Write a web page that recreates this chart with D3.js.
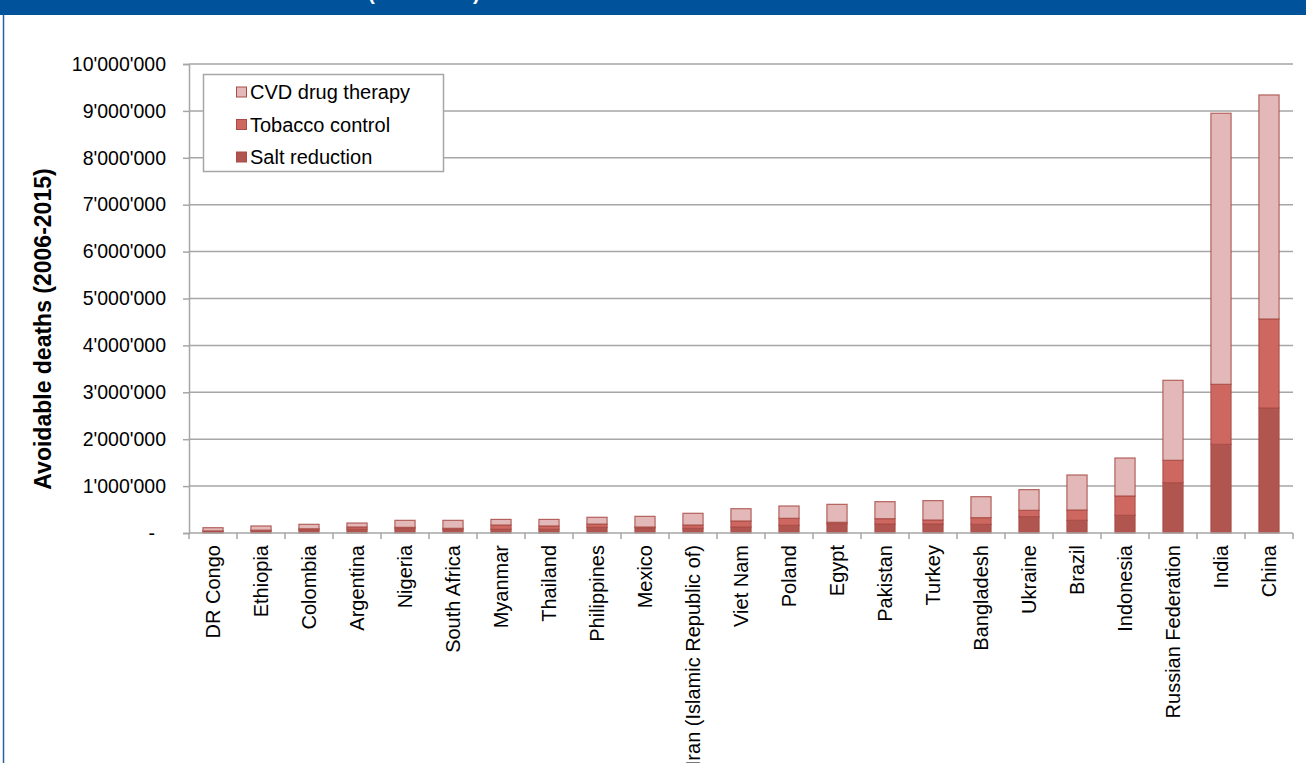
<!DOCTYPE html>
<html>
<head>
<meta charset="utf-8">
<script src="https://cdn.jsdelivr.net/npm/d3@7"></script>
<style>
  html, body { margin: 0; padding: 0; background: #fff; }
  svg { display: block; font-family: "Liberation Sans", Arial, sans-serif; }
</style>
</head>
<body>
<svg id="chart" width="1306" height="763"></svg>
<script>
const countries = ["DR Congo","Ethiopia","Colombia","Argentina","Nigeria","South Africa","Myanmar","Thailand","Philippines","Mexico","Iran (Islamic Republic of)","Viet Nam","Poland","Egypt","Pakistan","Turkey","Bangladesh","Ukraine","Brazil","Indonesia","Russian Federation","India","China"];
const saltReduction   = [30000,45000,70000,80000,100000,75000,80000,80000,120000,110000,100000,128000,164000,200000,192000,192000,185000,348000,270000,377000,1072000,1891000,2665000];
const tobaccoControl  = [15000,15000,20000,48000,20000,25000,90000,70000,70000,18000,70000,128000,149000,28000,113000,85000,142000,136000,220000,412000,478000,1279000,1898000];
const cvdDrugTherapy  = [68000,90000,95000,85000,150000,170000,120000,140000,145000,227000,250000,262000,263000,383000,363000,413000,447000,440000,747000,810000,1706000,5780000,4777000];
const seriesNames = ["Salt reduction","Tobacco control","CVD drug therapy"];
const seriesColors = ["#b0554f","#cf6761","#e2b9b8"];
const yTicks = [0,1000000,2000000,3000000,4000000,5000000,6000000,7000000,8000000,9000000,10000000];
const titleText = "Avoidable deaths in 23 countries (2006-2015)";
const yAxisTitle = "Avoidable deaths (2006-2015)";

const svg = d3.select("#chart");
const W = 1306, H = 763;
const plot = {left: 189, right: 1293, top: 64, bottom: 533};

// frame: title bar + left border
svg.append("rect").attr("x",0).attr("y",0).attr("width",W).attr("height",H).attr("fill","#fff");
svg.append("rect").attr("x",0).attr("y",0).attr("width",W).attr("height",15).attr("fill","#00529b");
svg.append("text").attr("x",43).attr("y",-0.5).attr("fill","#fff")
  .attr("font-weight","bold").attr("font-size",20.5).text(titleText);
svg.append("line").attr("x1",3.5).attr("x2",3.5).attr("y1",15).attr("y2",H)
  .attr("stroke","#2a5ea8").attr("stroke-width",1.5);

const x = d3.scaleBand().domain(countries).range([plot.left, plot.right]).paddingInner(0.58).paddingOuter(0.29);
const y = d3.scaleLinear().domain([0,10000000]).range([plot.bottom, plot.top]);

const fmt = v => v === 0 ? "-" : d3.format(",")(v).replace(/,/g,"'");

// gridlines
svg.append("g").selectAll("line").data(yTicks.filter(d=>d>0)).join("line")
  .attr("x1",plot.left).attr("x2",plot.right)
  .attr("y1",d=>y(d)).attr("y2",d=>y(d))
  .attr("stroke","#a6a6a6").attr("stroke-width",1.5);

// y axis
const yAxis = svg.append("g").attr("transform",`translate(${plot.left},0)`)
  .call(d3.axisLeft(y).tickValues(yTicks).tickFormat(fmt).tickSize(6).tickPadding(17));
yAxis.select(".domain").attr("stroke","#a6a6a6").attr("stroke-width",1.5);
yAxis.selectAll(".tick line").attr("stroke","#a6a6a6").attr("stroke-width",1.5);
yAxis.selectAll(".tick text").attr("font-size",19.5).attr("fill","#000")
  .attr("font-family","'Liberation Sans', Arial, sans-serif")
  .attr("dx",d=>d===0?-11:0);

// y title
svg.append("text").attr("transform",`translate(51,329) rotate(-90)`)
  .attr("text-anchor","middle").attr("font-weight","bold").attr("font-size",23)
  .attr("fill","#000").text(yAxisTitle);

// stacked bars
const rows = countries.map((c,i)=>({country:c, salt:saltReduction[i], tob:tobaccoControl[i], cvd:cvdDrugTherapy[i]}));
const stack = d3.stack().keys(["salt","tob","cvd"])(rows);
svg.append("g").selectAll("g").data(stack).join("g")
  .attr("fill",(d,i)=>seriesColors[i])
  .selectAll("rect").data(d=>d).join("rect")
  .attr("x",d=>x(d.data.country)).attr("width",x.bandwidth())
  .attr("y",d=>y(d[1])).attr("height",d=>y(d[0])-y(d[1]))
  .attr("stroke","#a94c47").attr("stroke-width",1.2).attr("stroke-opacity",0.85);

// x axis
const boundaries = d3.range(countries.length+1).map(i=>plot.left + i*(plot.right-plot.left)/countries.length);
svg.append("line").attr("x1",plot.left).attr("x2",plot.right).attr("y1",plot.bottom).attr("y2",plot.bottom)
  .attr("stroke","#a6a6a6").attr("stroke-width",1.5);
svg.append("g").selectAll("line").data(boundaries).join("line")
  .attr("x1",d=>d).attr("x2",d=>d).attr("y1",plot.bottom).attr("y2",plot.bottom+6)
  .attr("stroke","#a6a6a6").attr("stroke-width",1.5);
svg.append("g").selectAll("text").data(countries).join("text")
  .attr("transform",d=>`translate(${x(d)+x.bandwidth()/2+7},${plot.bottom+12}) rotate(-90)`)
  .attr("text-anchor","end").attr("font-size",20).attr("fill","#000").text(d=>d);

// legend
const lg = svg.append("g");
lg.append("rect").attr("x",203.5).attr("y",74.5).attr("width",240).attr("height",97)
  .attr("fill","#fff").attr("stroke","#a6a6a6").attr("stroke-width",1.5);
const legendOrder = [2,1,0];
legendOrder.forEach((si,k)=>{
  const cy = 92 + k*32.5;
  lg.append("rect").attr("x",236.5).attr("y",cy-5).attr("width",10).attr("height",10)
    .attr("fill",seriesColors[si]).attr("stroke","#a94c47").attr("stroke-width",1);
  lg.append("text").attr("x",250).attr("y",cy+7).attr("font-size",20).attr("fill","#000").text(seriesNames[si]);
});
</script>
</body>
</html>
